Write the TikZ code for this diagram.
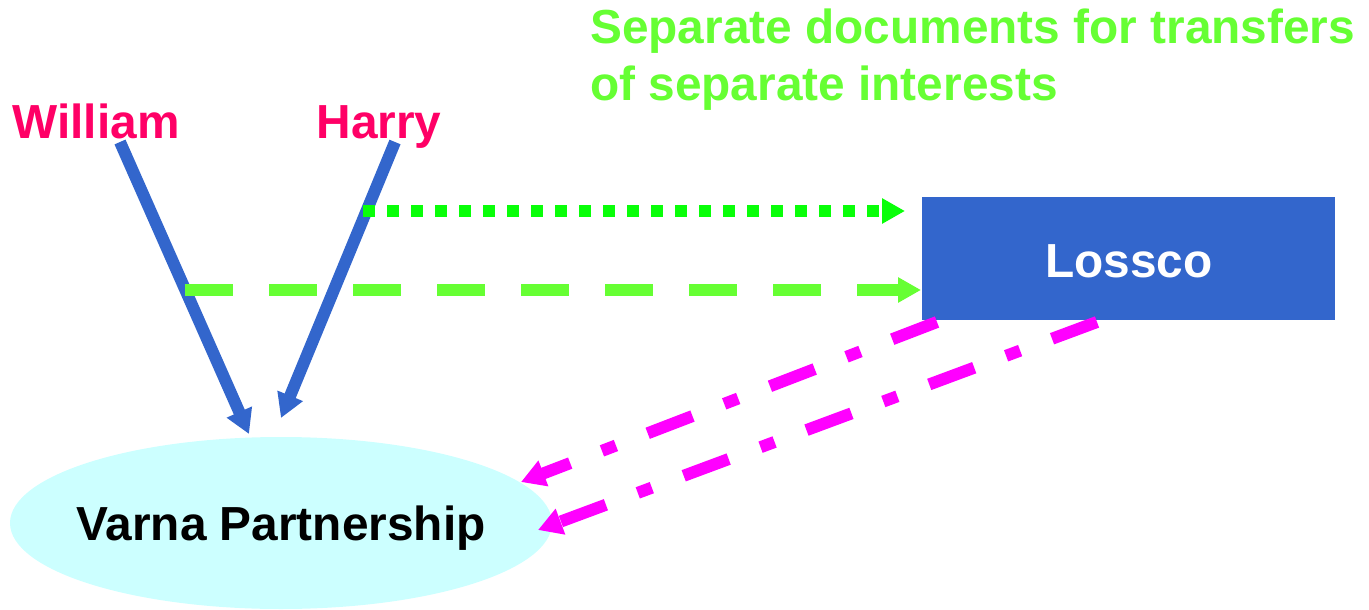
\documentclass[tikz,border=0pt]{standalone}
\usepackage{fontspec}
\setmainfont{Liberation Sans}
\usetikzlibrary{arrows.meta,shapes.geometric}
\definecolor{blueA}{HTML}{3366CC}
\definecolor{greenDot}{HTML}{09FF09}
\definecolor{greenDash}{HTML}{66FF33}
\definecolor{magentaA}{HTML}{FF00FF}
\definecolor{nameRed}{HTML}{FF0066}
\definecolor{cyanA}{HTML}{CCFFFF}
\tikzset{
  bigtext/.style={font=\bfseries\fontsize{47.8}{56}\selectfont, inner sep=0pt},
  person/.style={bigtext, text=nameRed, anchor=base},
  titletext/.style={bigtext, text=greenDash, anchor=base west},
  bluearrow/.style={draw=blueA, line width=12pt, -{Triangle[length=24pt,width=26pt]}},
  dotarrow/.style={draw=greenDot, line width=12pt, dash pattern=on 12pt off 12pt, -{Triangle[length=23pt,width=24pt]}},
  dasharrow/.style={draw=greenDash, line width=12pt, dash pattern=on 48pt off 36pt, -{Triangle[length=23pt,width=24pt]}},
  dotdasharrow/.style={draw=magentaA, line width=12pt, dash pattern=on 48pt off 34pt on 15pt off 34pt, -{Triangle[length=24pt,width=26pt]}},
}
\begin{document}
\begin{tikzpicture}[x=1pt,y=-1pt]
\useasboundingbox (0,0) rectangle (1369,610);
% title
\node[titletext] (title1) at (590,44) {Separate documents for transfers};
\node[titletext] (title2) at (590,100) {of separate interests};
% people
\node[person] (william) at (96,139) {William};
\node[person] (harry) at (379,139) {Harry};
% partnership
\node[ellipse, fill=cyanA, minimum width=542pt, minimum height=172pt, inner sep=0pt] (varna) at (281,523) {};
\node[bigtext, text=black, anchor=base] (varnatext) at (281,540) {Varna Partnership};
% Lossco
\node[rectangle, fill=blueA, minimum width=413pt, minimum height=123pt, inner sep=0pt] (lossco) at (1128.5,258.5) {};
\node[bigtext, text=white, anchor=base] (losscotext) at (1129,277) {Lossco};
% connector end points
\coordinate (w1) at (120,142);
\coordinate (w2) at (249,434);
\coordinate (h1) at (395,142);
\coordinate (h2) at (281,418);
\coordinate (d1) at (363,211);
\coordinate (d2) at (905,211);
\coordinate (e1) at (185,290);
\coordinate (e2) at (921,290);
\coordinate (m1) at (937,322);
\coordinate (m2) at (521,482);
\coordinate (n1) at (1097,322);
\coordinate (n2) at (538,530);
% connectors
\draw[bluearrow] (w1) -- (w2);
\draw[bluearrow] (h1) -- (h2);
\draw[dotarrow] (d1) -- (d2);
\draw[dasharrow] (e1) -- (e2);
\draw[dotdasharrow] (m1) -- (m2);
\draw[dotdasharrow] (n1) -- (n2);
\end{tikzpicture}
\end{document}
